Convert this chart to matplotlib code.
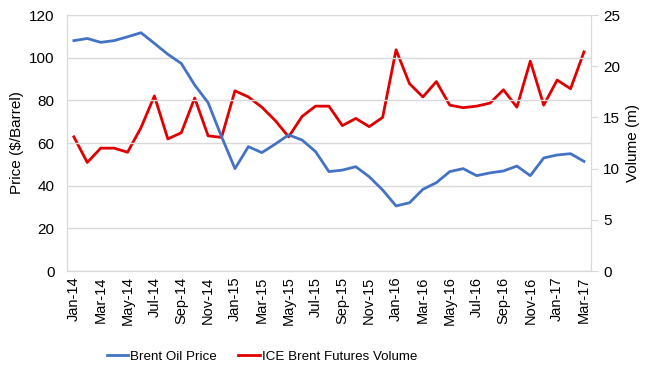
import matplotlib
matplotlib.use('Agg')
import matplotlib.pyplot as plt
import numpy as np

plt.rcParams['font.family'] = ['Liberation Sans', 'DejaVu Sans']

# monthly data, Jan-14 .. Mar-17
months = ['Jan-14', 'Feb-14', 'Mar-14', 'Apr-14', 'May-14', 'Jun-14', 'Jul-14', 'Aug-14',
          'Sep-14', 'Oct-14', 'Nov-14', 'Dec-14', 'Jan-15', 'Feb-15', 'Mar-15', 'Apr-15',
          'May-15', 'Jun-15', 'Jul-15', 'Aug-15', 'Sep-15', 'Oct-15', 'Nov-15', 'Dec-15',
          'Jan-16', 'Feb-16', 'Mar-16', 'Apr-16', 'May-16', 'Jun-16', 'Jul-16', 'Aug-16',
          'Sep-16', 'Oct-16', 'Nov-16', 'Dec-16', 'Jan-17', 'Feb-17', 'Mar-17']

brent_price = [108, 109, 107.2, 108, 109.8, 111.7, 106.7, 101.6, 97.3, 87.2, 78.9, 63,
               48, 58.3, 55.5, 59.5, 63.8, 61.4, 56, 46.6, 47.3, 48.9, 44.2, 38,
               30.5, 32, 38.3, 41.4, 46.6, 48, 44.7, 46, 46.9, 49.2, 44.7, 53,
               54.4, 55, 51.4]

ice_volume = [13.1, 10.6, 12.0, 12.0, 11.6, 14.0, 17.1, 12.9, 13.5, 16.9, 13.2, 13.05,
              17.6, 17.0, 16.0, 14.7, 13.1, 15.1, 16.1, 16.1, 14.2, 14.9, 14.1, 15.0,
              21.6, 18.3, 17.0, 18.5, 16.2, 15.95, 16.1, 16.4, 17.7, 16.0, 20.5, 16.2,
              18.65, 17.8, 21.4]

x = np.arange(len(months))

fig = plt.figure(figsize=(6.52, 3.71), dpi=100)
ax = fig.add_axes([0.103, 0.2695, 0.803, 0.69])
ax2 = ax.twinx()

grid_col = '#d9d9d9'
ax.set_axisbelow(True)
ax.yaxis.grid(True, color=grid_col, linewidth=1)

l1, = ax.plot(x, brent_price, color='#4472C4', linewidth=2, label='Brent Oil Price', zorder=3)
l2, = ax2.plot(x, ice_volume, color='#E00000', linewidth=2, label='ICE Brent Futures Volume', zorder=3)
ax.set_zorder(ax2.get_zorder() + 1)
ax.patch.set_visible(False)

ax.set_xlim(-0.5, len(months) - 0.5)
ax.set_ylim(0, 120)
ax2.set_ylim(0, 25)
ax.set_yticks(np.arange(0, 121, 20))
ax2.set_yticks(np.arange(0, 26, 5))
ax.set_xticks(x[::2])
ax.set_xticklabels(months[::2], rotation=90)

for a in (ax, ax2):
    for s in a.spines.values():
        s.set_color(grid_col)
    a.spines['top'].set_visible(False)
ax.tick_params(axis='y', length=0, labelsize=11, pad=9)
ax2.tick_params(axis='y', colors=grid_col, labelcolor='black', labelsize=11, length=5, pad=4)
ax.tick_params(axis='x', length=0, labelsize=10.5, pad=4)

ax.set_ylabel('Price ($/Barrel)', fontsize=11, labelpad=4)
ax2.set_ylabel('Volume (m)', fontsize=11)

fig.legend(handles=[l1, l2], loc='lower center', bbox_to_anchor=(0.402, -0.01), ncol=2,
           frameon=False, fontsize=9.6, handlelength=1.6, handletextpad=0.15, columnspacing=1.6)

fig.savefig('out.png', dpi=100)
